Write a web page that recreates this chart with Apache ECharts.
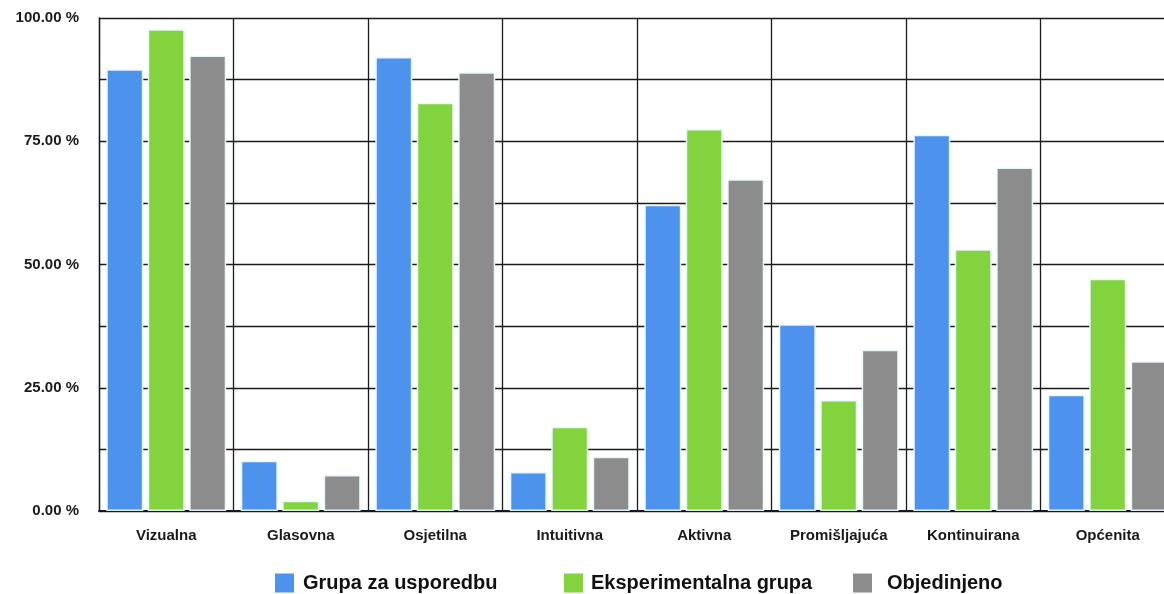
<!DOCTYPE html>
<html>
<head>
<meta charset="utf-8">
<script src="https://cdn.jsdelivr.net/npm/echarts@6/dist/echarts.min.js"></script>
<style>
html,body{margin:0;padding:0;background:#fff;overflow:hidden;width:1164px;height:594px;}
#chart{width:1175px;height:594px;}
</style>
</head>
<body>
<div id="chart"></div>
<script>
const categories = ['Vizualna','Glasovna','Osjetilna','Intuitivna','Aktivna','Promišljajuća','Kontinuirana','Općenita'];
const seriesNames = ['Grupa za usporedbu','Eksperimentalna grupa','Objedinjeno'];
const grupaZaUsporedbu = [89.6, 10.2, 92.1, 7.9, 62.1, 37.9, 76.3, 23.6];
const eksperimentalnaGrupa = [97.7, 2.1, 82.8, 17.1, 77.5, 22.5, 53.1, 47.1];
const objedinjeno = [92.4, 7.3, 89.0, 11.0, 67.3, 32.7, 69.7, 30.4];
const yTickLabels = {0:'0.00 %', 25:'25.00 %', 50:'50.00 %', 75:'75.00 %', 100:'100.00 %'};

const colors = ['#4d93ee', '#82d33d', '#8c8c8c'];
const values = [grupaZaUsporedbu, eksperimentalnaGrupa, objedinjeno];
const legendLefts = [275, 564, 853];
const legendTextPads = [4, 3, 10];

const chart = echarts.init(document.getElementById('chart'), null, {renderer:'canvas'});
const font = 'Arial, "Liberation Sans", sans-serif';

chart.setOption({
  animation: false,
  backgroundColor: '#ffffff',
  grid: { left: 99, top: 18, bottom: 83, right: 0, containLabel: false },
  legend: seriesNames.map((n, i) => ({
    data: [n],
    left: legendLefts[i],
    top: 573,
    padding: 0,
    itemWidth: 19,
    itemHeight: 19,
    icon: 'rect',
    itemStyle: { borderWidth: 0 },
    textStyle: { fontFamily: font, fontSize: 20, fontWeight: 'bold', color: '#111', padding: [0, 0, 0, legendTextPads[i]] },
    selectedMode: false
  })),
  xAxis: {
    type: 'category',
    data: categories,
    axisLine: { show: true, lineStyle: { color: '#101828', width: 2 } },
    axisTick: { show: false },
    splitLine: { show: true, lineStyle: { color: '#1a1a1a', width: 1.3 } },
    axisLabel: { fontFamily: font, fontSize: 15, fontWeight: 'bold', color: '#1a1a1a', margin: 17, interval: 0 }
  },
  yAxis: {
    type: 'value',
    min: 0, max: 100, interval: 12.5,
    axisLine: { show: true, lineStyle: { color: '#1a1a1a', width: 1.3 } },
    axisTick: { show: false },
    splitLine: { show: true, lineStyle: { color: '#1a1a1a', width: 1.3 } },
    axisLabel: {
      fontFamily: font, fontSize: 15, fontWeight: 'bold', color: '#1a1a1a', margin: 20,
      formatter: v => (yTickLabels[v] !== undefined ? yTickLabels[v] : '')
    }
  },
  series: seriesNames.map((n, i) => ({
    name: n,
    type: 'bar',
    data: values[i],
    barWidth: 37,
    barGap: '12%',
    itemStyle: { color: colors[i], borderColor: 'rgba(232,250,255,0.95)', borderWidth: 1.5 }
  }))
});
</script>
</body>
</html>
